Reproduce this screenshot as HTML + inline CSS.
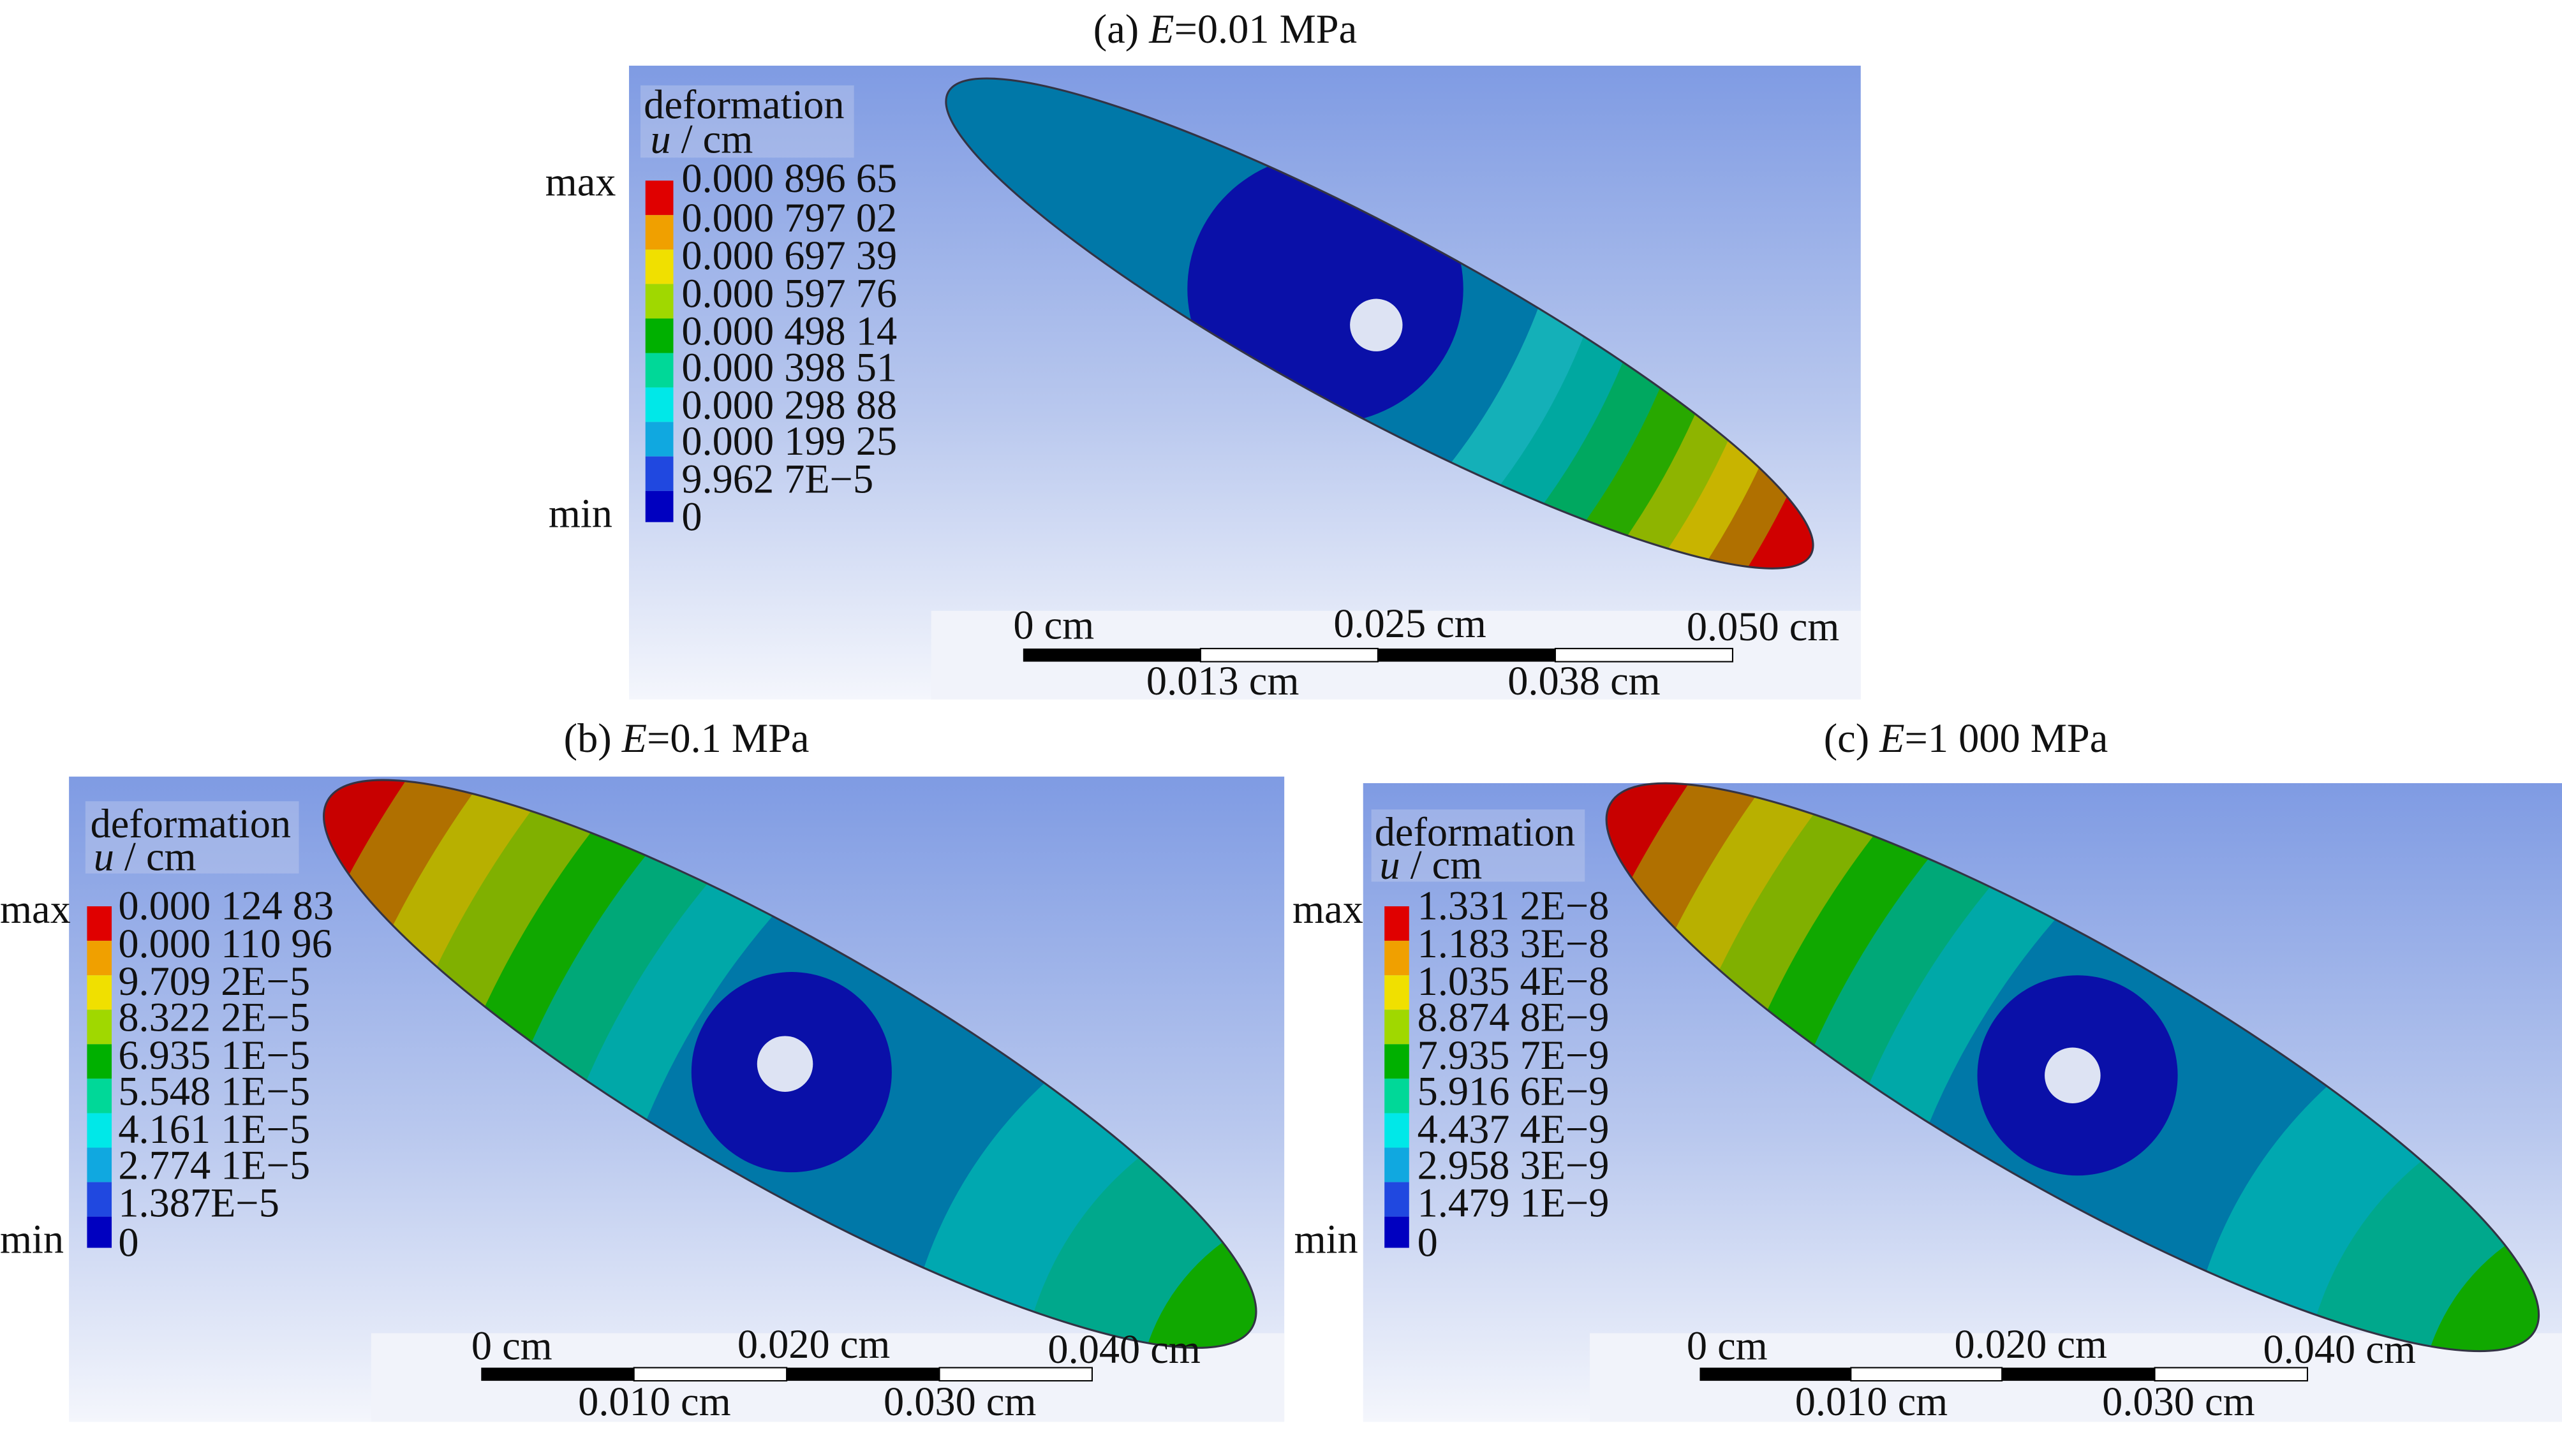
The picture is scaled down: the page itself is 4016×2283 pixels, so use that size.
<!DOCTYPE html>
<html><head><meta charset="utf-8"><style>
html,body{margin:0;padding:0;background:#fff;width:4016px;height:2283px;overflow:hidden;}
svg{display:block;position:fixed;left:0;top:0;}
text{font-family:"Liberation Serif",serif;font-size:25px;fill:#111;}
</style></head><body>
<svg width="4016" height="2283" viewBox="0 0 1560 886.8" preserveAspectRatio="none" xmlns="http://www.w3.org/2000/svg">
<defs>
<linearGradient id="bg" x1="0" y1="0" x2="0" y2="1">
<stop offset="0" stop-color="#7f9be3"/><stop offset="0.55" stop-color="#b9c8ee"/><stop offset="1" stop-color="#f4f6fc"/>
</linearGradient>
<clipPath id="ca"><ellipse cx="840" cy="197" rx="298" ry="56" transform="rotate(28.2 840 197)"/></clipPath>
<clipPath id="cb"><ellipse cx="481" cy="648" rx="324" ry="74" transform="rotate(29.7 481 648)"/></clipPath>
<clipPath id="cc"><ellipse cx="1262" cy="650" rx="324" ry="74" transform="rotate(29.7 1262 650)"/></clipPath>
</defs>
<rect width="1560" height="887" fill="#fff"/>
<!-- Panel a -->
<rect x="383" y="40" width="750" height="386" fill="url(#bg)"/>
<rect x="390" y="52" width="130" height="44" fill="#c5d0ee" opacity="0.4"/>
<rect x="567" y="372" width="566" height="54" fill="#f1f3fa"/>
<g clip-path="url(#ca)">
<rect x="500" y="0" width="700" height="420" fill="#d00000"/>
<circle cx="600" cy="60" r="545" fill="#b07000"/>
<circle cx="600" cy="60" r="522" fill="#c8b400"/>
<circle cx="600" cy="60" r="498" fill="#8eb400"/>
<circle cx="600" cy="60" r="473" fill="#28a800"/>
<circle cx="600" cy="60" r="447" fill="#00a860"/>
<circle cx="600" cy="60" r="420" fill="#00a8a0"/>
<circle cx="600" cy="60" r="392" fill="#14b0b8"/>
<circle cx="600" cy="60" r="360" fill="#0078a8"/>
<ellipse cx="807" cy="176" rx="84" ry="82" fill="#0a10a8"/>
</g>
<ellipse cx="840" cy="197" rx="298" ry="56" transform="rotate(28.2 840 197)" fill="none" stroke="#334" stroke-width="1.2"/>
<circle cx="838" cy="198" r="16" fill="#dde3f3"/>
<g>
<rect x="393" y="110" width="17" height="21" fill="#e00000"/>
<rect x="393" y="131" width="17" height="21" fill="#f0a000"/>
<rect x="393" y="152" width="17" height="21" fill="#f0e000"/>
<rect x="393" y="173" width="17" height="21" fill="#a0d800"/>
<rect x="393" y="194" width="17" height="21" fill="#00b000"/>
<rect x="393" y="215" width="17" height="21" fill="#00d898"/>
<rect x="393" y="236" width="17" height="21" fill="#00e8e8"/>
<rect x="393" y="257" width="17" height="21" fill="#10a8e0"/>
<rect x="393" y="278" width="17" height="21" fill="#2048e0"/>
<rect x="393" y="299" width="17" height="19" fill="#0000c0"/>
<text x="392" y="72">deformation</text>
<text x="396" y="93"><tspan font-style="italic">u</tspan> / cm</text>
<text x="332" y="119">max</text><text x="334" y="321">min</text>
<text x="415" y="117">0.000 896 65</text><text x="415" y="141">0.000 797 02</text>
<text x="415" y="164">0.000 697 39</text><text x="415" y="187">0.000 597 76</text>
<text x="415" y="210">0.000 498 14</text><text x="415" y="232">0.000 398 51</text>
<text x="415" y="255">0.000 298 88</text><text x="415" y="277">0.000 199 25</text>
<text x="415" y="300">9.962 7E−5</text><text x="415" y="323">0</text>
</g>
<rect x="623" y="395" width="108" height="8" fill="#000"/><rect x="731" y="395" width="108" height="8" fill="#fff" stroke="#000" stroke-width="0.8"/>
<rect x="839" y="395" width="108" height="8" fill="#000"/><rect x="947" y="395" width="108" height="8" fill="#fff" stroke="#000" stroke-width="0.8"/>
<text x="617" y="389">0 cm</text><text x="812" y="388">0.025 cm</text><text x="1027" y="390">0.050 cm</text>
<text x="698" y="423">0.013 cm</text><text x="918" y="423">0.038 cm</text>
<text x="746" y="26" text-anchor="middle">(a) <tspan font-style="italic">E</tspan>=0.01 MPa</text>

<!-- Panel b -->
<rect x="42" y="473" width="740" height="393" fill="url(#bg)"/>
<rect x="52" y="488" width="130" height="44" fill="#c5d0ee" opacity="0.4"/>
<rect x="226" y="812" width="556" height="54" fill="#f1f3fa"/>
<g clip-path="url(#cb)">
<rect x="150" y="470" width="640" height="380" fill="#c80000"/>
<circle cx="820" cy="860" r="690" fill="#b07000"/>
<circle cx="820" cy="860" r="652" fill="#b8b000"/>
<circle cx="820" cy="860" r="617" fill="#80b000"/>
<circle cx="820" cy="860" r="580" fill="#10a800"/>
<circle cx="820" cy="860" r="545" fill="#00a878"/>
<circle cx="820" cy="860" r="505" fill="#00a8a8"/>
<circle cx="820" cy="860" r="462" fill="#0078a8"/>
<circle cx="820" cy="860" r="272" fill="#00a8b0"/>
<circle cx="820" cy="860" r="200" fill="#00a88c"/>
<circle cx="820" cy="860" r="128" fill="#10a800"/>
<circle cx="482" cy="653" r="61" fill="#0a10a8"/>
</g>
<ellipse cx="481" cy="648" rx="324" ry="74" transform="rotate(29.7 481 648)" fill="none" stroke="#334" stroke-width="1.2"/>
<circle cx="478" cy="648" r="17" fill="#dde3f3"/>
<g>
<rect x="53" y="552" width="15" height="21" fill="#e00000"/>
<rect x="53" y="573" width="15" height="21" fill="#f0a000"/>
<rect x="53" y="594" width="15" height="21" fill="#f0e000"/>
<rect x="53" y="615" width="15" height="21" fill="#a0d800"/>
<rect x="53" y="636" width="15" height="21" fill="#00b000"/>
<rect x="53" y="657" width="15" height="21" fill="#00d898"/>
<rect x="53" y="678" width="15" height="21" fill="#00e8e8"/>
<rect x="53" y="699" width="15" height="21" fill="#10a8e0"/>
<rect x="53" y="720" width="15" height="21" fill="#2048e0"/>
<rect x="53" y="741" width="15" height="19" fill="#0000c0"/>
<text x="55" y="510">deformation</text>
<text x="57" y="530"><tspan font-style="italic">u</tspan> / cm</text>
<text x="0" y="562">max</text><text x="0" y="763">min</text>
<text x="72" y="560">0.000 124 83</text><text x="72" y="583">0.000 110 96</text>
<text x="72" y="606">9.709 2E−5</text><text x="72" y="628">8.322 2E−5</text>
<text x="72" y="651">6.935 1E−5</text><text x="72" y="673">5.548 1E−5</text>
<text x="72" y="696">4.161 1E−5</text><text x="72" y="718">2.774 1E−5</text>
<text x="72" y="741">1.387E−5</text><text x="72" y="765">0</text>
</g>
<rect x="293" y="833" width="93" height="8" fill="#000"/><rect x="386" y="833" width="93" height="8" fill="#fff" stroke="#000" stroke-width="0.8"/>
<rect x="479" y="833" width="93" height="8" fill="#000"/><rect x="572" y="833" width="93" height="8" fill="#fff" stroke="#000" stroke-width="0.8"/>
<text x="287" y="828">0 cm</text><text x="449" y="827">0.020 cm</text><text x="638" y="830">0.040 cm</text>
<text x="352" y="862">0.010 cm</text><text x="538" y="862">0.030 cm</text>
<text x="418" y="458" text-anchor="middle">(b) <tspan font-style="italic">E</tspan>=0.1 MPa</text>

<!-- Panel c -->
<rect x="830" y="477" width="730" height="389" fill="url(#bg)"/>
<rect x="835" y="493" width="130" height="44" fill="#c5d0ee" opacity="0.4"/>
<rect x="968" y="812" width="592" height="54" fill="#f1f3fa"/>
<g clip-path="url(#cc)">
<rect x="930" y="470" width="640" height="380" fill="#c80000"/>
<circle cx="1601" cy="862" r="690" fill="#b07000"/>
<circle cx="1601" cy="862" r="652" fill="#b8b000"/>
<circle cx="1601" cy="862" r="617" fill="#80b000"/>
<circle cx="1601" cy="862" r="580" fill="#10a800"/>
<circle cx="1601" cy="862" r="545" fill="#00a878"/>
<circle cx="1601" cy="862" r="505" fill="#00a8a8"/>
<circle cx="1601" cy="862" r="462" fill="#0078a8"/>
<circle cx="1601" cy="862" r="272" fill="#00a8b0"/>
<circle cx="1601" cy="862" r="200" fill="#00a88c"/>
<circle cx="1601" cy="862" r="128" fill="#10a800"/>
<circle cx="1265" cy="655" r="61" fill="#0a10a8"/>
</g>
<ellipse cx="1262" cy="650" rx="324" ry="74" transform="rotate(29.7 1262 650)" fill="none" stroke="#334" stroke-width="1.2"/>
<circle cx="1262" cy="655" r="17" fill="#dde3f3"/>
<g>
<rect x="843" y="552" width="15" height="21" fill="#e00000"/>
<rect x="843" y="573" width="15" height="21" fill="#f0a000"/>
<rect x="843" y="594" width="15" height="21" fill="#f0e000"/>
<rect x="843" y="615" width="15" height="21" fill="#a0d800"/>
<rect x="843" y="636" width="15" height="21" fill="#00b000"/>
<rect x="843" y="657" width="15" height="21" fill="#00d898"/>
<rect x="843" y="678" width="15" height="21" fill="#00e8e8"/>
<rect x="843" y="699" width="15" height="21" fill="#10a8e0"/>
<rect x="843" y="720" width="15" height="21" fill="#2048e0"/>
<rect x="843" y="741" width="15" height="19" fill="#0000c0"/>
<text x="837" y="515">deformation</text>
<text x="840" y="535"><tspan font-style="italic">u</tspan> / cm</text>
<text x="787" y="562">max</text><text x="788" y="763">min</text>
<text x="863" y="560">1.331 2E−8</text><text x="863" y="583">1.183 3E−8</text>
<text x="863" y="606">1.035 4E−8</text><text x="863" y="628">8.874 8E−9</text>
<text x="863" y="651">7.935 7E−9</text><text x="863" y="673">5.916 6E−9</text>
<text x="863" y="696">4.437 4E−9</text><text x="863" y="718">2.958 3E−9</text>
<text x="863" y="741">1.479 1E−9</text><text x="863" y="765">0</text>
</g>
<rect x="1035" y="833" width="92" height="8" fill="#000"/><rect x="1127" y="833" width="92" height="8" fill="#fff" stroke="#000" stroke-width="0.8"/>
<rect x="1219" y="833" width="93" height="8" fill="#000"/><rect x="1312" y="833" width="93" height="8" fill="#fff" stroke="#000" stroke-width="0.8"/>
<text x="1027" y="828">0 cm</text><text x="1190" y="827">0.020 cm</text><text x="1378" y="830">0.040 cm</text>
<text x="1093" y="862">0.010 cm</text><text x="1280" y="862">0.030 cm</text>
<text x="1197" y="458" text-anchor="middle">(c) <tspan font-style="italic">E</tspan>=1 000 MPa</text>
</svg>
</body></html>
